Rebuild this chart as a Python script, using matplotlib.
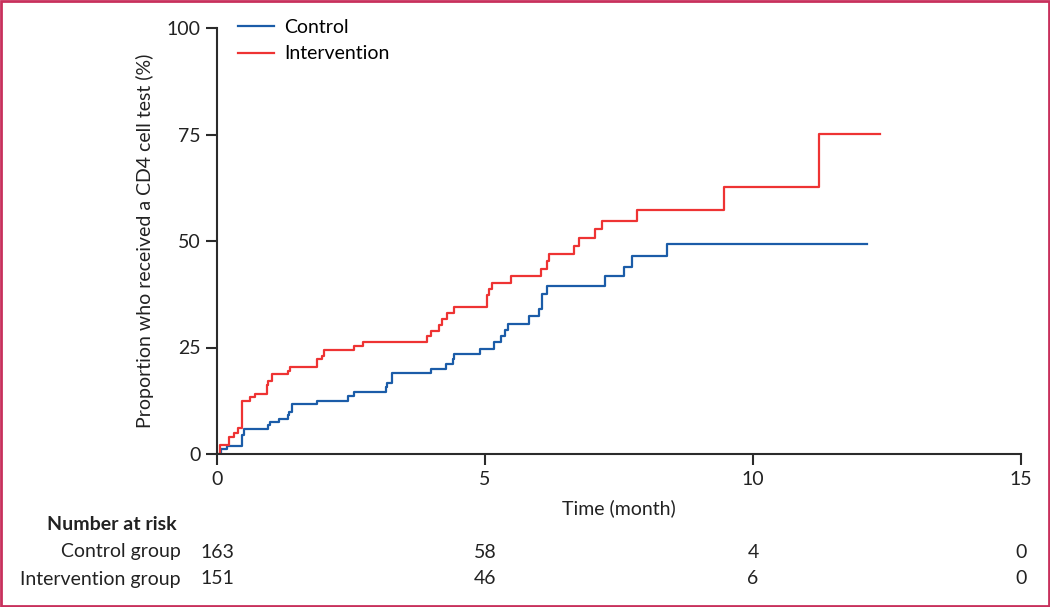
import matplotlib.pyplot as plt
from matplotlib.patches import Rectangle

# Kaplan-Meier style cumulative curves (time in months, proportion in %)
t_control = [0, 0.07, 0.18, 0.47, 0.50, 0.96, 0.99, 1.16, 1.32, 1.35, 1.39, 1.86,
             2.44, 2.55, 3.15, 3.18, 3.26, 3.99, 4.27, 4.40, 4.43, 4.90, 5.17,
             5.30, 5.37, 5.43, 5.83, 6.00, 6.06, 6.16, 7.23, 7.59, 7.74, 8.40, 12.12]
y_control = [0, 1.1, 1.9, 4.5, 5.9, 6.8, 7.6, 8.2, 9.2, 9.9, 11.7, 12.5,
             13.5, 14.6, 15.7, 16.7, 18.9, 19.9, 21.1, 22.3, 23.5, 24.7, 26.2,
             27.6, 29.1, 30.6, 32.3, 34.0, 37.6, 39.4, 41.8, 44.0, 46.5, 49.4, 49.4]

t_interv = [0, 0.06, 0.22, 0.32, 0.40, 0.46, 0.62, 0.70, 0.93, 0.96, 1.03, 1.33,
            1.37, 1.86, 1.95, 2.00, 2.56, 2.73, 3.91, 3.99, 4.15, 4.20, 4.30, 4.43,
            5.03, 5.08, 5.13, 5.49, 6.05, 6.15, 6.19, 6.66, 6.76, 7.06, 7.19, 7.83,
            9.46, 11.23, 12.37]
y_interv = [0, 2.1, 4.1, 4.9, 6.2, 12.5, 13.4, 14.2, 16.3, 17.1, 18.8, 19.5,
            20.5, 22.2, 23.1, 24.3, 25.4, 26.4, 27.7, 28.9, 30.3, 31.7, 33.0, 34.4,
            37.3, 38.7, 40.1, 41.7, 43.4, 45.2, 46.9, 48.8, 50.8, 52.7, 54.8, 57.3,
            62.7, 75.2, 75.2]

risk_times = [0, 5, 10, 15]
risk_control = [163, 58, 4, 0]
risk_interv = [151, 46, 6, 0]

blue = '#1b5ca8'
red = '#ee3333'
dark = '#2b2b2b'
txt = '#222222'

plt.rcParams['font.family'] = ['Lato', 'DejaVu Sans']
plt.rcParams['font.size'] = 14

fig = plt.figure(figsize=(10.5, 6.07), dpi=100)
ax = fig.add_axes([217/1050, 153/607, 804/1050, 426/607])

ax.step(t_control, y_control, where='post', color=blue, lw=1.6, label='Control')
ax.step(t_interv, y_interv, where='post', color=red, lw=1.6, label='Intervention')

ax.set_xlim(0, 15)
ax.set_ylim(0, 100)
ax.set_xticks([0, 5, 10, 15])
ax.set_yticks([0, 25, 50, 75, 100])
for s in ['top', 'right']:
    ax.spines[s].set_visible(False)
for s in ['left', 'bottom']:
    ax.spines[s].set_color(dark)
    ax.spines[s].set_linewidth(1.5)
ax.tick_params(length=8, width=1.5, color=dark, labelsize=14, labelcolor=txt, pad=4)

ax.set_ylabel('Proportion who received a CD4 cell test (%)', color=txt, labelpad=9)
ax.set_xlabel('Time (month)', color=txt, labelpad=8)

ax.legend(loc='upper left', bbox_to_anchor=(0.017, 1.04), frameon=False,
          handlelength=1.85, handletextpad=0.5, labelspacing=0.5, borderaxespad=0)

# number at risk table
fig.text(47/1050, 1 - 525/607, 'Number at risk', fontweight='bold',
         ha='left', va='center', color=txt)
fig.text(181/1050, 1 - 552/607, 'Control group', ha='right', va='center', color=txt)
fig.text(181/1050, 1 - 579/607, 'Intervention group', ha='right', va='center', color=txt)
trans = ax.get_xaxis_transform()
for t, c, i in zip(risk_times, risk_control, risk_interv):
    ax.text(t, (454 - 552) / 426, str(c), transform=trans, ha='center', va='center',
            color=txt, clip_on=False)
    ax.text(t, (454 - 579) / 426, str(i), transform=trans, ha='center', va='center',
            color=txt, clip_on=False)

# frame around the figure
fig.patches.append(Rectangle((0.001, 0.002), 0.998, 0.996, transform=fig.transFigure,
                             fill=False, edgecolor='#c8305c', lw=2))

fig.savefig('out.png', dpi=100)
